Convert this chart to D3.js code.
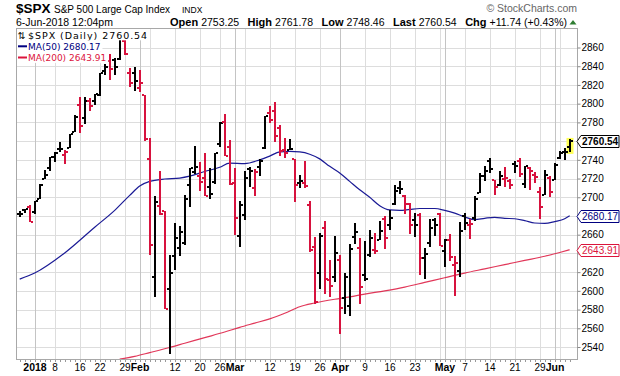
<!DOCTYPE html>
<html>
<head>
<meta charset="utf-8">
<script src="https://cdn.jsdelivr.net/npm/d3@7"></script>
<style>
  body { margin: 0; background: #fff; }
  svg { display: block; }
</style>
</head>
<body>
<div id="chart"></div>
<script>
/* daily bars, Dec 27 2017 .. Jun 6 2018 */
const dates = [
  "2017-12-27","2017-12-28","2017-12-29",
  "2018-01-02","2018-01-03","2018-01-04","2018-01-05","2018-01-08","2018-01-09","2018-01-10","2018-01-11","2018-01-12",
  "2018-01-16","2018-01-17","2018-01-18","2018-01-19","2018-01-22","2018-01-23","2018-01-24","2018-01-25","2018-01-26",
  "2018-01-29","2018-01-30","2018-01-31",
  "2018-02-01","2018-02-02","2018-02-05","2018-02-06","2018-02-07","2018-02-08","2018-02-09","2018-02-12","2018-02-13",
  "2018-02-14","2018-02-15","2018-02-16","2018-02-20","2018-02-21","2018-02-22","2018-02-23","2018-02-26","2018-02-27","2018-02-28",
  "2018-03-01","2018-03-02","2018-03-05","2018-03-06","2018-03-07","2018-03-08","2018-03-09","2018-03-12","2018-03-13",
  "2018-03-14","2018-03-15","2018-03-16","2018-03-19","2018-03-20","2018-03-21","2018-03-22","2018-03-23","2018-03-26",
  "2018-03-27","2018-03-28","2018-03-29",
  "2018-04-02","2018-04-03","2018-04-04","2018-04-05","2018-04-06","2018-04-09","2018-04-10","2018-04-11","2018-04-12",
  "2018-04-13","2018-04-16","2018-04-17","2018-04-18","2018-04-19","2018-04-20","2018-04-23","2018-04-24","2018-04-25",
  "2018-04-26","2018-04-27","2018-04-30",
  "2018-05-01","2018-05-02","2018-05-03","2018-05-04","2018-05-07","2018-05-08","2018-05-09","2018-05-10","2018-05-11",
  "2018-05-14","2018-05-15","2018-05-16","2018-05-17","2018-05-18","2018-05-21","2018-05-22","2018-05-23","2018-05-24",
  "2018-05-25","2018-05-29","2018-05-30","2018-05-31",
  "2018-06-01","2018-06-04","2018-06-05","2018-06-06"
]
const open = [
  2682.10,2686.10,2689.15,
  2683.73,2697.85,2719.31,2731.33,2742.67,2751.15,2745.55,2752.97,2770.18,
  2798.96,2784.99,2802.40,2802.60,2809.16,2835.05,2845.42,2846.24,2847.48,
  2867.23,2832.74,2832.41,
  2816.45,2808.92,2741.06,2614.78,2690.95,2685.01,2601.78,2636.75,2646.27,
  2651.21,2713.46,2727.14,2722.99,2720.53,2710.42,2715.80,2757.37,2780.45,2753.78,
  2715.22,2658.89,2681.06,2730.18,2710.18,2732.75,2752.91,2790.54,2792.31,
  2774.06,2750.57,2750.57,2741.38,2715.05,2714.99,2691.36,2646.71,2619.35,
  2667.57,2611.30,2614.41,
  2633.45,2592.17,2584.04,2657.36,2645.82,2617.18,2638.41,2643.36,2653.83,
  2676.90,2670.10,2692.74,2710.11,2701.16,2692.56,2675.40,2680.80,2634.92,
  2651.65,2675.47,2682.51,
  2642.96,2654.24,2628.08,2621.45,2680.34,2670.26,2678.12,2705.02,2722.70,
  2738.47,2718.59,2712.62,2719.71,2717.35,2735.39,2738.34,2713.98,2730.94,
  2723.60,2705.11,2702.43,2720.98,
  2718.70,2741.67,2748.46,2753.25
]
const high = [
  2685.64,2687.66,2692.12,
  2695.89,2714.37,2729.29,2743.45,2748.51,2759.14,2750.80,2767.56,2787.85,
  2807.54,2807.04,2805.83,2810.33,2833.03,2842.24,2852.97,2848.56,2872.87,
  2870.62,2837.75,2839.26,
  2835.96,2808.92,2763.39,2701.04,2727.67,2685.27,2638.67,2672.61,2668.84,
  2702.10,2731.51,2754.42,2737.60,2747.75,2731.26,2747.76,2780.64,2789.15,2761.52,
  2730.89,2696.25,2728.09,2732.08,2730.60,2740.45,2786.57,2796.98,2801.90,
  2777.11,2763.03,2761.85,2741.38,2724.22,2739.14,2695.68,2657.67,2661.36,
  2674.78,2632.65,2659.07,
  2638.30,2619.14,2649.86,2672.08,2656.88,2653.55,2665.45,2661.43,2674.72,
  2680.26,2686.49,2713.34,2717.49,2702.84,2693.94,2682.86,2683.55,2645.30,
  2676.48,2677.35,2682.87,
  2655.27,2660.87,2637.14,2673.61,2683.35,2676.34,2701.27,2726.11,2732.86,
  2742.10,2718.59,2727.76,2731.96,2719.50,2739.19,2742.24,2733.33,2731.97,
  2727.36,2710.67,2729.34,2722.50,
  2736.93,2749.16,2752.61,2761.78
]
const low = [
  2678.91,2682.69,2673.61,
  2682.36,2697.77,2719.07,2727.92,2737.60,2747.86,2736.06,2752.78,2769.64,
  2768.64,2778.38,2792.56,2798.08,2808.12,2830.59,2824.81,2830.94,2846.18,
  2851.48,2818.27,2813.04,
  2812.70,2759.97,2638.17,2593.07,2681.33,2580.56,2532.69,2622.45,2637.08,
  2648.87,2689.82,2725.11,2706.76,2701.29,2697.77,2713.74,2753.78,2744.22,2713.54,
  2659.65,2647.32,2675.75,2711.26,2701.74,2722.65,2751.54,2779.26,2758.68,
  2744.38,2741.47,2749.97,2694.59,2710.05,2709.79,2641.59,2585.89,2601.81,
  2596.12,2593.06,2609.72,
  2553.80,2575.49,2573.61,2649.58,2586.27,2610.79,2635.78,2639.25,2653.83,
  2645.05,2665.16,2692.05,2703.63,2681.90,2660.61,2657.99,2617.32,2612.67,
  2647.16,2659.01,2648.04,
  2625.41,2631.70,2594.62,2615.32,2664.70,2655.20,2674.14,2704.54,2717.45,
  2725.47,2701.91,2712.17,2711.36,2709.18,2725.70,2721.88,2709.54,2707.38,
  2714.99,2676.81,2702.43,2700.68,
  2718.70,2740.54,2739.51,2748.46
]
const close = [
  2682.62,2687.54,2673.61,
  2695.81,2713.06,2723.99,2743.15,2747.71,2751.29,2748.23,2767.56,2786.24,
  2776.42,2802.56,2798.03,2810.30,2832.97,2839.13,2837.54,2839.25,2872.87,
  2853.53,2822.43,2823.81,
  2821.98,2762.13,2648.94,2695.14,2681.66,2581.00,2619.55,2656.00,2662.94,
  2698.63,2731.20,2732.22,2716.26,2701.33,2703.96,2747.30,2779.60,2744.28,2713.83,
  2677.67,2691.25,2720.94,2728.12,2726.80,2738.97,2786.57,2783.02,2765.31,
  2749.48,2747.33,2752.01,2712.92,2716.94,2711.93,2643.69,2588.26,2658.55,
  2612.62,2605.00,2640.87,
  2581.88,2614.45,2644.69,2662.84,2604.47,2613.16,2656.87,2642.19,2663.99,
  2656.30,2677.84,2706.39,2708.64,2693.13,2670.14,2670.29,2634.56,2639.40,
  2666.94,2669.91,2648.05,
  2654.80,2635.67,2629.73,2663.42,2672.63,2671.92,2697.79,2723.07,2727.72,
  2730.13,2711.45,2722.46,2720.13,2712.97,2733.01,2724.44,2733.29,2727.76,
  2721.33,2689.86,2724.01,2705.27,
  2734.62,2746.87,2748.80,2760.54
]
const prevClose = 2680.50

/* moving averages at sample days */
const ma50Dates = [
  "2017-12-27","2018-01-02","2018-01-10","2018-01-19","2018-01-25","2018-01-30","2018-02-01","2018-02-05",
  "2018-02-08","2018-02-13","2018-02-15","2018-02-21","2018-02-26","2018-02-28","2018-03-05","2018-03-08",
  "2018-03-12","2018-03-14","2018-03-16","2018-03-20","2018-03-22","2018-03-26","2018-03-28","2018-04-02",
  "2018-04-04","2018-04-06","2018-04-10","2018-04-12","2018-04-16","2018-04-18","2018-04-20","2018-04-24",
  "2018-04-27","2018-05-01","2018-05-03","2018-05-07","2018-05-09","2018-05-11","2018-05-15","2018-05-17",
  "2018-05-21","2018-05-23","2018-05-25","2018-05-30","2018-06-01","2018-06-05","2018-06-06"
]
const ma50 = [
  2612.5,2619,2640.5,2668,2686,2702,2712,2717,
  2719.5,2720.5,2722.5,2727.5,2732,2736.5,2736,2740,
  2744,2748.4,2749,2748.4,2746,2741,2733,2726,
  2717,2708,2700,2691,2686.5,2686,2687,2688,
  2688,2686,2683,2679,2676,2677.5,2678.6,2677.5,
  2677,2675,2672.5,2672,2674,2677,2680.17
]
const ma200Dates = [
  "2018-01-26","2018-01-31","2018-02-05","2018-02-09","2018-02-14","2018-02-21","2018-02-27","2018-03-02",
  "2018-03-07","2018-03-12","2018-03-15","2018-03-20","2018-03-23","2018-03-29","2018-04-04","2018-04-09",
  "2018-04-13","2018-04-19","2018-04-25","2018-05-01","2018-05-07","2018-05-11","2018-05-17","2018-05-23",
  "2018-05-30","2018-06-04","2018-06-06"
]
const ma200 = [
  2527,2530,2534,2539.5,2544,2550,2556,2561,
  2565.5,2570,2576,2583,2587,2591,2593.5,2596.5,
  2600,2604,2609,2614,2619,2623.5,2628,2632.5,
  2637,2641,2643.91
]

/* axis ticks */
const priceTicks = d3.range(2540, 2861, 20)
const gridDates = [
  "2018-01-02","2018-01-08","2018-01-16","2018-01-22","2018-01-29","2018-02-01","2018-02-05","2018-02-12",
  "2018-02-20","2018-02-26","2018-03-01","2018-03-05","2018-03-12","2018-03-19","2018-03-26","2018-04-02",
  "2018-04-09","2018-04-16","2018-04-23","2018-04-30","2018-05-01","2018-05-07","2018-05-14","2018-05-21",
  "2018-05-29","2018-06-01","2018-06-04"
]
const monthDates = ["2018-01-02","2018-02-01","2018-03-01","2018-04-02","2018-05-01","2018-06-01"]
const labelDates = [
  "2018-01-02","2018-01-08","2018-01-16","2018-01-22","2018-01-29","2018-02-01","2018-02-12","2018-02-20",
  "2018-02-26","2018-03-01","2018-03-12","2018-03-19","2018-03-26","2018-04-02","2018-04-09","2018-04-16",
  "2018-04-23","2018-05-01","2018-05-07","2018-05-14","2018-05-21","2018-05-29","2018-06-01"
]
const labelTexts = [
  "2018","8","16","22","29","Feb","12","20","26","Mar","12","19","26","Apr","9","16","23","May","7","14","21","29","Jun"
]

const width = 620
const height = 376
const plot = { left: 16, right: 577, top: 28, bottom: 359 }

const RED = '#d7123e'
const NAVY = '#000080'
const CRIMSON = '#dc143c'
const fmt = d3.format('.2f')

const svg = d3.create('svg')
    .attr('width', width)
    .attr('height', height)
    .attr('viewBox', [0, 0, width, height])
    .style('font-family', '"Liberation Sans", Arial, sans-serif')

document.getElementById('chart').appendChild(svg.node())

const idx = d => dates.indexOf(d)

const x = d3.scaleLinear()
    .domain([0, dates.length - 1])
    .range([19.7, 569.7])
const px = i => Math.round(x(i))

const y = d3.scaleLinear()
    .domain([2540, 2860])
    .range([347, 47.5])

svg.append('rect')
    .attr('width', width).attr('height', height)
    .attr('fill', '#fff')

svg.append('clipPath').attr('id', 'plot-clip')
    .append('rect')
    .attr('x', plot.left).attr('y', plot.top)
    .attr('width', plot.right - plot.left).attr('height', plot.bottom - plot.top)

/*
 *      grid
 */
const grid = svg.append('g').attr('shape-rendering', 'crispEdges')

grid.selectAll('.hgrid')
    .data(priceTicks)
    .enter().append('line')
    .attr('x1', plot.left).attr('x2', plot.right)
    .attr('y1', d => Math.round(y(d)) + 0.5).attr('y2', d => Math.round(y(d)) + 0.5)
    .attr('stroke', '#dddddd')

grid.selectAll('.vgrid')
    .data(gridDates)
    .enter().append('line')
    .attr('x1', d => px(idx(d)) + 0.5).attr('x2', d => px(idx(d)) + 0.5)
    .attr('y1', plot.top).attr('y2', plot.bottom)
    .attr('stroke', d => monthDates.includes(d) ? '#c4c4c4' : '#dddddd')

/*
 *      moving averages
 */
const plotArea = svg.append('g').attr('clip-path', 'url(#plot-clip)')

const maLine = d3.line()
    .x(d => x(idx(d[0])))
    .y(d => y(d[1]))
    .curve(d3.curveMonotoneX)

plotArea.append('path')
    .datum(d3.zip(ma200Dates, ma200))
    .attr('d', maLine)
    .attr('fill', 'none')
    .attr('stroke', CRIMSON)
    .attr('stroke-width', 1.2)
    .attr('stroke-opacity', 0.85)

plotArea.append('path')
    .datum(d3.zip(ma50Dates, ma50))
    .attr('d', maLine)
    .attr('fill', 'none')
    .attr('stroke', '#1a1a95')
    .attr('stroke-width', 1.2)

/*
 *      OHLC bars
 */
const last = dates.length - 1
plotArea.append('rect')
    .attr('x', px(last) - 3.5)
    .attr('y', y(high[last]) - 1.5)
    .attr('width', 7)
    .attr('height', y(low[last]) - y(high[last]) + 3.5)
    .attr('fill', '#ffff55')

const bars = plotArea.selectAll('.bar')
    .data(dates.map((d, i) => i))
    .enter().append('g')
    .attr('class', 'bar')
    .attr('shape-rendering', 'crispEdges')
    .attr('fill', i => close[i] >= (i ? close[i - 1] : prevClose) ? '#000' : RED)

bars.append('rect')
    .attr('x', i => px(i) - 1).attr('width', 2)
    .attr('y', i => Math.round(y(high[i])))
    .attr('height', i => Math.max(1, Math.round(y(low[i])) - Math.round(y(high[i]))))
bars.append('rect')
    .attr('x', i => px(i) - 3).attr('width', 2)
    .attr('y', i => Math.round(y(open[i])) - 1).attr('height', 2)
bars.append('rect')
    .attr('x', i => px(i) + 1).attr('width', 2)
    .attr('y', i => Math.round(y(close[i])) - 1).attr('height', 2)

/*
 *      frame and axes
 */
svg.append('rect')
    .attr('x', plot.left + 0.5).attr('y', plot.top + 0.5)
    .attr('width', plot.right - plot.left).attr('height', plot.bottom - plot.top)
    .attr('fill', 'none')
    .attr('stroke', '#a8a8a8')
    .attr('shape-rendering', 'crispEdges')

/* last value boxes (they hide the tick label under them) */
const boxes = [
    { v: close[last], color: '#000', bold: true },
    { v: ma50[ma50.length - 1], color: NAVY, bold: false },
    { v: ma200[ma200.length - 1], color: CRIMSON, bold: false }
]
const hidden = t => boxes.some(b => Math.abs(y(b.v) - y(t)) < 9)

const yAxis = svg.append('g')
    .attr('transform', `translate(${plot.right + 0.5},0)`)
    .call(d3.axisRight(y).tickValues(priceTicks).tickSize(3).tickPadding(1)
        .tickFormat(d => hidden(d) ? '' : d3.format('d')(d)))
yAxis.select('.domain').remove()
yAxis.selectAll('line').attr('stroke', '#888')
yAxis.selectAll('text')
    .attr('font-family', '"Liberation Sans", Arial, sans-serif')
    .attr('font-size', 10)
    .attr('fill', '#000')

const boxG = svg.selectAll('.vbox')
    .data(boxes)
    .enter().append('g')
    .attr('transform', d => `translate(0,${Math.round(y(d.v)) + 0.5})`)
boxG.append('path')
    .attr('d', 'M577,0 L581,-6 L619,-6 L619,6 L581,6 Z')
    .attr('fill', '#fff')
    .attr('stroke', d => d.color)
boxG.append('text')
    .attr('x', 582).attr('y', 3.5)
    .attr('font-size', 10)
    .attr('font-weight', d => d.bold ? 'bold' : 'normal')
    .attr('fill', d => d.color)
    .text(d => fmt(d.v))

/* day ticks under the plot */
svg.append('g')
    .attr('shape-rendering', 'crispEdges')
    .selectAll('line')
    .data(dates.map((d, i) => i))
    .enter().append('line')
    .attr('x1', i => px(i) + 0.5).attr('x2', i => px(i) + 0.5)
    .attr('y1', plot.bottom + 1).attr('y2', plot.bottom + 3)
    .attr('stroke', '#999')

svg.append('g')
    .selectAll('text')
    .data(d3.zip(labelDates, labelTexts))
    .enter().append('text')
    .attr('x', d => px(idx(d[0])))
    .attr('y', 371)
    .attr('text-anchor', 'middle')
    .attr('font-size', d => monthDates.includes(d[0]) ? 10.5 : 10)
    .attr('font-weight', d => monthDates.includes(d[0]) ? 'bold' : 'normal')
    .text(d => d[1])

/*
 *      legend inside the plot
 */
const legend = svg.append('g')
const legendRows = [
    { text: '$SPX (Daily) ' + fmt(close[last]), color: '#000', y: 38.5, size: 9.5, spacing: 0.95, mark: 'arrows' },
    { text: 'MA(50) ' + fmt(ma50[ma50.length - 1]), color: NAVY, y: 49.8, size: 9, spacing: 0, mark: 'line' },
    { text: 'MA(200) ' + fmt(ma200[ma200.length - 1]), color: CRIMSON, y: 61, size: 9, spacing: 0, mark: 'line' }
]
legendRows.forEach((row, k) => {
    const bg = legend.append('rect').attr('fill', '#fff')
    const t = legend.append('text')
        .attr('x', 28).attr('y', row.y)
        .attr('font-family', '"DejaVu Sans", Verdana, sans-serif')
        .attr('font-size', row.size)
        .attr('letter-spacing', row.spacing)
        .attr('fill', row.color)
        .text(row.text)
    if (row.mark === 'arrows') {
        legend.append('text')
            .attr('x', 17.5).attr('y', row.y)
            .attr('font-family', '"DejaVu Sans", sans-serif')
            .attr('font-size', 9.5)
            .text('\u21c5')
    } else {
        legend.append('rect')
            .attr('x', 18).attr('y', row.y - 4.5)
            .attr('width', 9).attr('height', 2)
            .attr('fill', row.color)
    }
    const b = t.node().getBBox()
    bg.attr('x', plot.left + 1).attr('y', plot.top + 1 + k * 11.3)
        .attr('width', b.x + b.width + 2 - (plot.left + 1))
        .attr('height', 11.3)
})

/*
 *      header
 */
const header = svg.append('g')
header.append('text').attr('x', 16).attr('y', 13)
    .attr('font-size', 13.5).attr('font-weight', 'bold').text('$SPX')
header.append('text').attr('x', 54).attr('y', 13)
    .attr('font-size', 10).text('S&P 500 Large Cap Index')
header.append('text').attr('x', 182).attr('y', 13)
    .attr('font-size', 8.5).text('INDX')
header.append('text').attr('x', 16).attr('y', 25.5)
    .attr('font-size', 10.5).text('6-Jun-2018 12:04pm')
header.append('text').attr('x', 577).attr('y', 11.5)
    .attr('text-anchor', 'end').attr('font-size', 10.5).attr('fill', '#666')
    .text('\u00a9 StockCharts.com')

/* quote line: label/value pairs spread from x=170 to x=567 */
const quote = [
    ['Open', fmt(open[last])], ['High', fmt(high[last])], ['Low', fmt(low[last])],
    ['Last', fmt(close[last])], ['Chg', '+11.74 (+0.43%)']
]
const pieces = []
quote.forEach(([label, value]) => {
    pieces.push(header.append('text').attr('y', 25.5).attr('font-size', 11)
        .attr('font-weight', 'bold').text(label))
    pieces.push(header.append('text').attr('y', 25.5).attr('font-size', 10.5).text(value))
})
const widths = pieces.map(p => p.node().getComputedTextLength())
const innerGap = 3
const groupGap = (567 - 170 - d3.sum(widths) - innerGap * quote.length) / (quote.length - 1)
let cursor = 170
pieces.forEach((p, k) => {
    p.attr('x', cursor)
    cursor += widths[k] + (k % 2 === 0 ? innerGap : groupGap)
})
header.append('path')
    .attr('d', 'M569.5,24.5 L573,20 L576.5,24.5 Z')
    .attr('fill', '#2e7d32')
</script>
</body>
</html>
